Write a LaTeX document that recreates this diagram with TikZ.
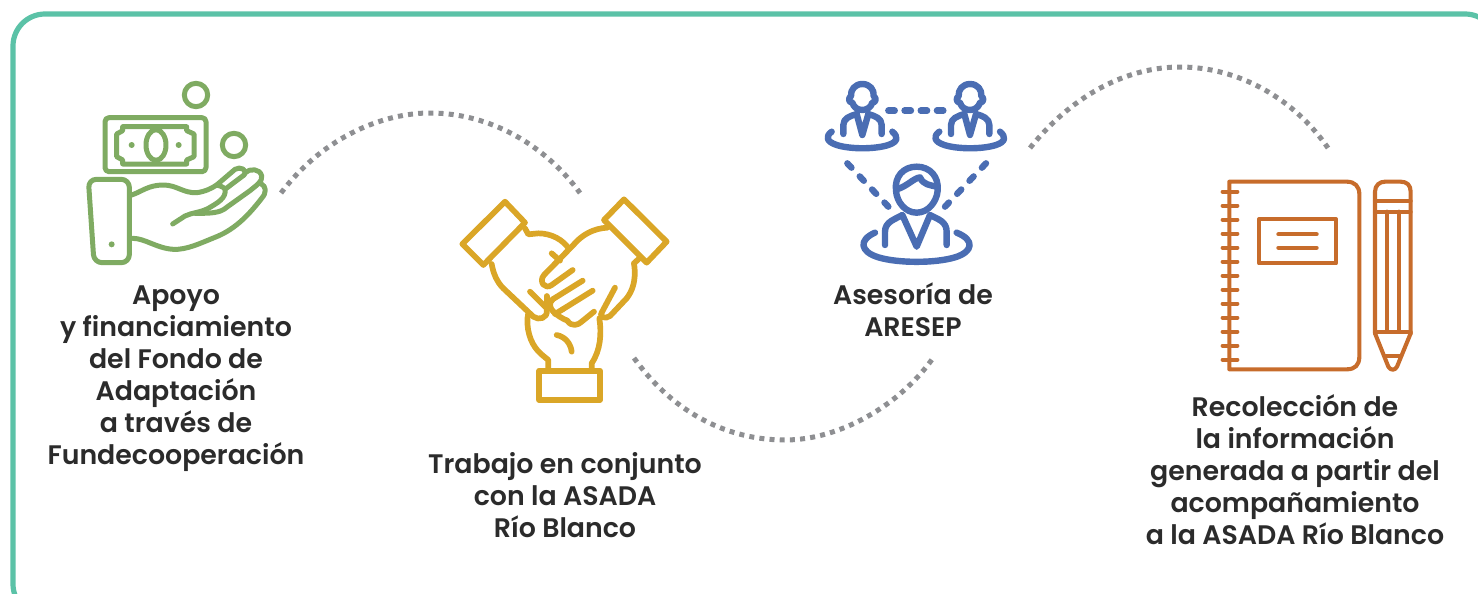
\documentclass[tikz,border=0pt]{standalone}
\usepackage{fontspec}
\setmainfont{Poppins}[BoldFont={Poppins SemiBold}]
\definecolor{frameC}{HTML}{5BC2A7}
\definecolor{dotC}{HTML}{8E8F92}
\definecolor{txtC}{HTML}{2B2B2B}
\definecolor{greenC}{HTML}{7FAB62}
\definecolor{goldC}{HTML}{DAA627}
\definecolor{blueC}{HTML}{4A6DB3}
\definecolor{orangeC}{HTML}{C76C2B}
\tikzset{
  x=0.5pt,y=-0.5pt,
  lbl/.style={align=center,inner sep=0pt,text=txtC,font=\fontsize{13.4pt}{16pt}\selectfont\bfseries},
  dotarc/.style={draw=dotC,line width=2.5pt,dash pattern=on 2.5pt off 2.6pt},
  ico/.style={line width=2.5pt,line cap=round,line join=round},
  gold ico/.style={line width=2.85pt,line cap=round,line join=round},
  blue ico/.style={line width=3.2pt,line cap=round,line join=round},
  thin ico/.style={line width=2.05pt,line cap=round,line join=round},
}
\begin{document}
\begin{tikzpicture}
\useasboundingbox (0,0) rectangle (1478,594);
\draw[frameC,line width=2.6pt,rounded corners=16pt] (13,14) rectangle (1497,616);

% labels
\node[lbl] (l1) at (176,379) {Apoyo\\y financiamiento\\del Fondo de\\Adaptación\\a través de\\Fundecooperación};
\node[lbl] (l2) at (565,495) {Trabajo en conjunto\\con la ASADA\\Río Blanco};
\node[lbl] (l3) at (913,310) {Asesoría de\\ARESEP};
\node[lbl] (l4) at (1295,470) {Recolección de\\la información\\generada a partir del\\acompañamiento\\a la ASADA Río Blanco};

% dotted arcs
\coordinate (a1s) at (281,193); \coordinate (a1e) at (580,193);
\coordinate (a2s) at (634,358); \coordinate (a2e) at (933,358);
\coordinate (a3s) at (1030,148); \coordinate (a3e) at (1328,148);
\draw[dotarc] (a1s) .. controls (325,135) and (385,113) .. (430,113) .. controls (490,113) and (545,145) .. (a1e);
\draw[dotarc] (a2s) .. controls (675,415) and (730,440) .. (785,440) .. controls (840,440) and (900,405) .. (a2e);
\draw[dotarc] (a3s) .. controls (1075,92) and (1130,67) .. (1180,67) .. controls (1240,67) and (1295,100) .. (a3e);

% green icon
\begin{scope}[shift={(70,70)},scale=1/3,greenC,ico]
\draw (378,75) circle (35);
\draw (492,225) circle (35);
\draw[rounded corners=2pt] (105,143) rectangle (408,305);
\draw (158,170) -- (350,170) -- (350,182) -- (372,192) -- (372,260) -- (350,270) -- (350,282) -- (158,282) -- (158,270) -- (140,260) -- (140,192) -- (158,182) -- cycle;
\draw (258,225) ellipse (30 and 46);
\fill (185,225) circle (9);
\fill (326,225) circle (9);
\fill (125,523) circle (9);
\draw[rounded corners=4pt] (55,328) -- (178,328) -- (178,578) -- (72,578) -- cycle;
\draw (185,375) .. controls (215,365) and (235,345) .. (280,345) .. controls (320,345) and (340,370) .. (380,368) .. controls (405,365) and (425,355) .. (440,345) -- (495,298) .. controls (510,288) and (535,300) .. (522,315);
\draw (522,315) -- (465,358) .. controls (470,385) and (440,400) .. (415,415) .. controls (390,428) and (365,428) .. (345,438) -- (308,462);
\draw (440,345) .. controls (455,348) and (465,355) .. (465,358);
\draw (525,308) .. controls (540,295) and (570,295) .. (575,318) .. controls (578,335) and (560,345) .. (540,362) -- (470,412) .. controls (450,430) and (420,430) .. (375,430);
\draw (572,340) .. controls (590,350) and (590,368) .. (575,385) .. controls (540,430) and (500,475) .. (440,500) .. controls (390,520) and (350,540) .. (310,538) .. controls (260,535) and (225,505) .. (188,505);
\end{scope}

% gold icon
\begin{scope}[shift={(450,190)},scale=1/3,goldC,gold ico]
\draw (165,35) -- (225,98) -- (100,225) -- (37,162) -- cycle;
\draw (522,28) -- (650,155) -- (590,218) -- (462,90) -- cycle;
\draw (268,542) rectangle (450,630);
% left hand
\draw (225,115) -- (235,133) -- (265,130) .. controls (305,130) and (340,150) .. (357,177);
\draw (125,222) .. controls (130,250) and (140,275) .. (160,295) -- (250,380) .. controls (265,392) and (295,385) .. (290,360);
\draw (240,305) -- (290,355);
\draw (305,190) -- (330,212);
% right hand
\draw (472,113) .. controls (430,115) and (395,135) .. (370,165) -- (282,255) .. controls (265,275) and (285,300) .. (305,285) -- (368,240);
\draw (290,318) -- (290,352) ;
\draw (308,328) -- (398,272);
\draw (338,358) -- (428,302);
\draw (352,392) .. controls (365,412) and (385,405) .. (395,395) -- (432,365);
\draw (310,365) .. controls (320,375) and (335,385) .. (352,392);
\draw (308,328) .. controls (295,340) and (300,355) .. (310,365);
\draw (338,358) -- (315,372);
\draw (455,368) -- (495,293);
\draw (552,220) .. controls (552,225) and (565,280) .. (530,325) -- (480,378) .. controls (465,390) and (445,378) .. (455,368);
\draw (552,220) -- (568,205);
% bottom hand
\draw (235,368) .. controls (230,390) and (232,415) .. (238,435) .. controls (250,475) and (270,490) .. (295,510) -- (295,540);
\draw (448,385) .. controls (455,430) and (452,480) .. (425,520) -- (425,540);
\draw (320,435) .. controls (345,440) and (362,460) .. (365,485);
\end{scope}

% blue icon
\begin{scope}[shift={(815,70)},scale=1/3,blueC,blue ico]
\foreach \dx in {0,323}{
\begin{scope}[xshift=\dx*1pt*0.5]
\draw (142,42) .. controls (165,42) and (178,60) .. (176,78) .. controls (186,85) and (182,98) .. (172,98) .. controls (168,112) and (155,120) .. (142,120) .. controls (128,120) and (116,112) .. (112,98) .. controls (102,98) and (98,85) .. (108,78) .. controls (106,60) and (120,42) .. (142,42);
\draw (85,192) -- (85,165) .. controls (85,145) and (105,138) .. (125,132) -- (142,195) -- (160,132) .. controls (180,138) and (200,145) .. (200,165) -- (200,192);
\draw (50,185) .. controls (30,200) and (35,215) .. (65,225) .. controls (105,238) and (180,238) .. (220,225) .. controls (250,215) and (250,200) .. (232,185);
\end{scope}}
\draw[dash pattern=on 3.2pt off 4.9pt] (220,122) -- (390,122);
\draw[dash pattern=on 3pt off 6pt] (97,280) -- (220,410);
\draw[dash pattern=on 3pt off 6pt] (513,280) -- (390,410);
\draw (305,290) .. controls (345,290) and (372,320) .. (368,362) .. controls (365,395) and (340,428) .. (305,428) .. controls (270,428) and (245,395) .. (243,362) .. controls (238,320) and (265,290) .. (305,290);
\draw (245,358) .. controls (275,350) and (295,325) .. (315,322) .. controls (325,345) and (345,345) .. (365,350);
\draw (210,525) -- (210,485) .. controls (210,455) and (240,448) .. (262,435) -- (305,530) -- (345,435) .. controls (370,448) and (395,455) .. (395,485) -- (395,525);
\draw (180,488) .. controls (130,510) and (135,545) .. (190,562) .. controls (250,580) and (360,580) .. (420,562) .. controls (475,545) and (480,510) .. (425,488);
\end{scope}

% orange icon
\begin{scope}[shift={(1210,170)},scale=1/3,orangeC,thin ico]
\draw (58,35) -- (410,35) .. controls (435,35) and (448,50) .. (448,72) -- (448,560) .. controls (448,585) and (435,598) .. (410,598) -- (58,598) -- cycle;
\foreach \yy in {65,107,149,191,233,275,317,359,401,443,485,527,569}
  \draw (38,\yy) -- (82,\yy);
\draw (147,147) rectangle (378,280);
\draw (205,193) -- (320,193);
\draw (205,233) -- (320,233);
\draw (495,490) -- (495,65) .. controls (495,45) and (510,35) .. (525,35) -- (572,35) .. controls (590,35) and (602,45) .. (602,65) -- (602,490);
\draw (495,93) -- (602,93);
\draw (495,125) -- (602,125);
\draw (495,485) -- (602,485);
\draw (530,125) -- (530,485);
\draw (568,125) -- (568,485);
\draw (495,490) -- (535,590) .. controls (542,602) and (555,602) .. (561,590) -- (602,490);
\draw (528,557) -- (570,557);
\end{scope}
\end{tikzpicture}
\end{document}
